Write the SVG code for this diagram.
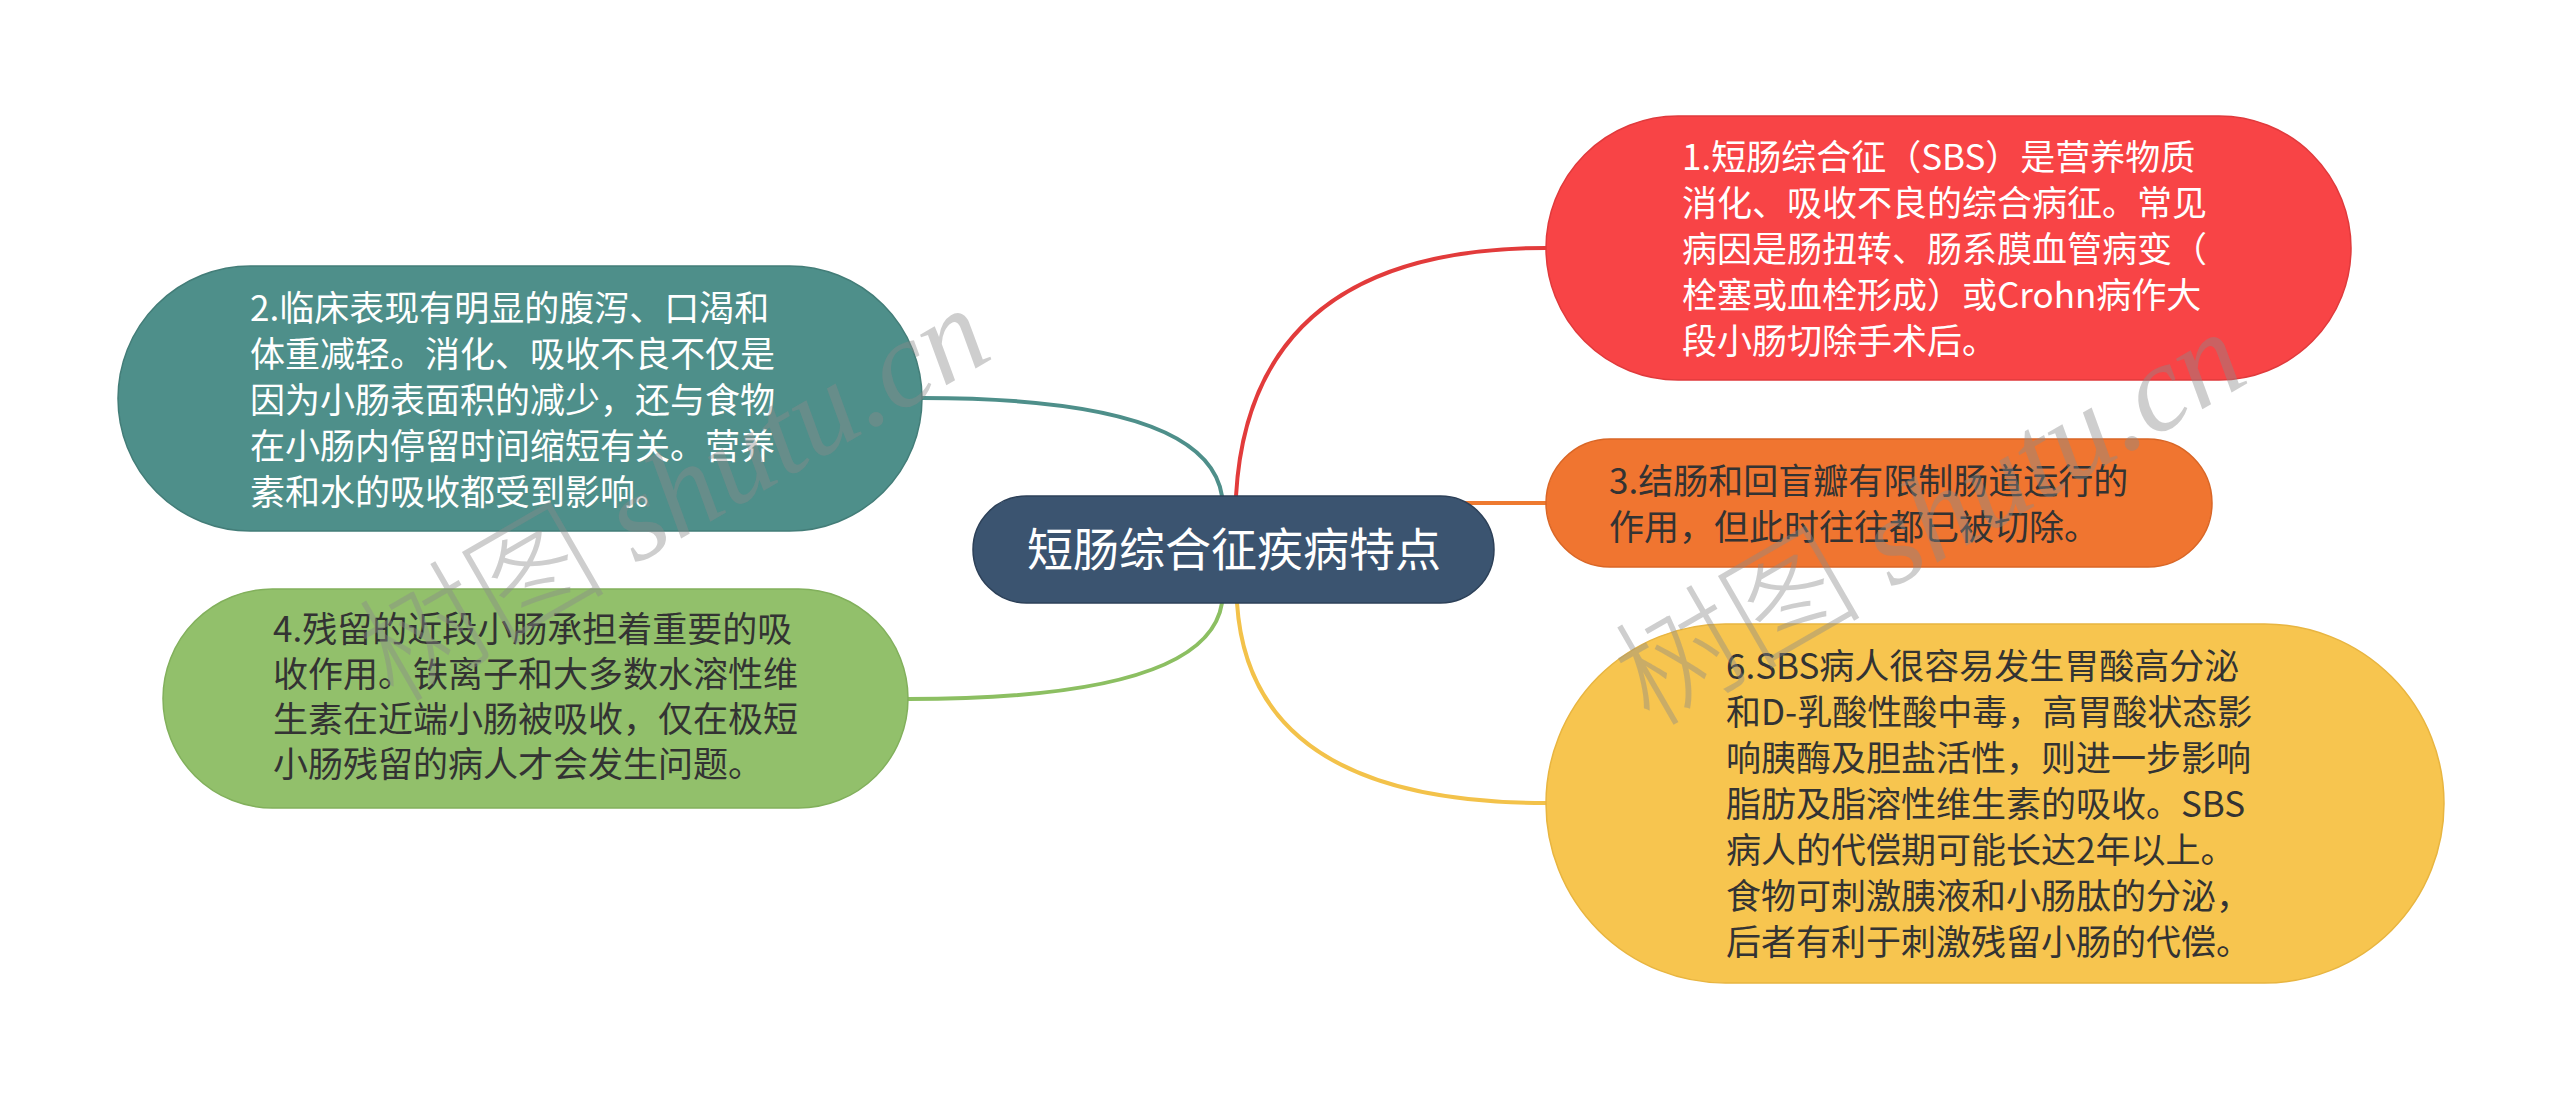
<svg xmlns="http://www.w3.org/2000/svg" width="2560" height="1099" viewBox="0 0 2560 1099">
<style>
.t{font-family:"Noto Sans CJK SC","Liberation Sans",sans-serif;font-size:35px}
.w{fill:#ffffff}
.d{fill:#333333}
.c{fill:none;stroke-width:4;stroke-linecap:round}
.wm{font-family:"Liberation Serif","Noto Sans CJK SC",serif;font-size:124px;fill:#8a8a8a;fill-opacity:0.42}
</style>
<rect width="2560" height="1099" fill="#ffffff"/>
<g id="connectors">
<path class="c" stroke="#4e8f8a" d="M 1222 496 Q 1207 398 922 398"/>
<path class="c" stroke="#e23b3b" d="M 1236 496 Q 1250 248 1546 248"/>
<path class="c" stroke="#ee7a30" d="M 1460 503 L 1546 503"/>
<path class="c" stroke="#8cbf62" d="M 1222 603 Q 1207 699 908 699"/>
<path class="c" stroke="#f3c24a" d="M 1237 603 Q 1250 803 1546 803"/>
</g>
<g id="node-center">
<rect x="973" y="496" width="521" height="107" rx="53.5" fill="#3b5470" stroke="#2c4058" stroke-width="1.5"/>
<text class="t w" x="1234" y="566" text-anchor="middle" style="font-size:46px">短肠综合征疾病特点</text>
</g>
<g id="node-1">
<rect x="1546" y="116" width="805" height="264" rx="132" fill="#f84446" stroke="#e03a3c" stroke-width="1.5"/>
<text class="t w"><tspan x="1682" y="170">1.短肠综合征（SBS）是营养物质</tspan><tspan x="1682" y="216">消化、吸收不良的综合病征。常见</tspan><tspan x="1682" y="262">病因是肠扭转、肠系膜血管病变（</tspan><tspan x="1682" y="308">栓塞或血栓形成）或Crohn病作大</tspan><tspan x="1682" y="354">段小肠切除手术后。</tspan></text>
</g>
<g id="node-2">
<rect x="118" y="266" width="804" height="265" rx="132.5" fill="#4e8f8a" stroke="#437d78" stroke-width="1.5"/>
<text class="t w"><tspan x="250" y="321">2.临床表现有明显的腹泻、口渴和</tspan><tspan x="250" y="367">体重减轻。消化、吸收不良不仅是</tspan><tspan x="250" y="413">因为小肠表面积的减少，还与食物</tspan><tspan x="250" y="459">在小肠内停留时间缩短有关。营养</tspan><tspan x="250" y="505">素和水的吸收都受到影响。</tspan></text>
</g>
<g id="node-3">
<rect x="1546" y="439" width="666" height="128" rx="64" fill="#f07530" stroke="#d96626" stroke-width="1.5"/>
<text class="t d"><tspan x="1609" y="494">3.结肠和回盲瓣有限制肠道运行的</tspan><tspan x="1609" y="540">作用，但此时往往都已被切除。</tspan></text>
</g>
<g id="node-4">
<rect x="163" y="589" width="745" height="219" rx="109.5" fill="#92c06b" stroke="#82b05c" stroke-width="1.5"/>
<text class="t d"><tspan x="273" y="642">4.残留的近段小肠承担着重要的吸</tspan><tspan x="273" y="687">收作用。铁离子和大多数水溶性维</tspan><tspan x="273" y="732">生素在近端小肠被吸收，仅在极短</tspan><tspan x="273" y="777">小肠残留的病人才会发生问题。</tspan></text>
</g>
<g id="node-6">
<rect x="1546" y="624" width="898" height="359" rx="179.5" fill="#f7c54f" stroke="#e8b540" stroke-width="1.5"/>
<text class="t d"><tspan x="1726" y="679">6.SBS病人很容易发生胃酸高分泌</tspan><tspan x="1726" y="725">和D-乳酸性酸中毒，高胃酸状态影</tspan><tspan x="1726" y="771">响胰酶及胆盐活性，则进一步影响</tspan><tspan x="1726" y="817">脂肪及脂溶性维生素的吸收。SBS</tspan><tspan x="1726" y="863">病人的代偿期可能长达2年以上。</tspan><tspan x="1726" y="909">食物可刺激胰液和小肠肽的分泌，</tspan><tspan x="1726" y="955">后者有利于刺激残留小肠的代偿。</tspan></text>
</g>
<g id="watermarks">
<text class="wm" x="674" y="536" text-anchor="middle" transform="rotate(-30 674 494)"><tspan font-family="Noto Sans CJK SC, sans-serif" font-weight="300">树图</tspan> <tspan font-style="italic">shutu.cn</tspan></text>
<text class="wm" x="1930" y="560" text-anchor="middle" transform="rotate(-30 1930 518)"><tspan font-family="Noto Sans CJK SC, sans-serif" font-weight="300">树图</tspan> <tspan font-style="italic">shutu.cn</tspan></text>
</g>
</svg>
